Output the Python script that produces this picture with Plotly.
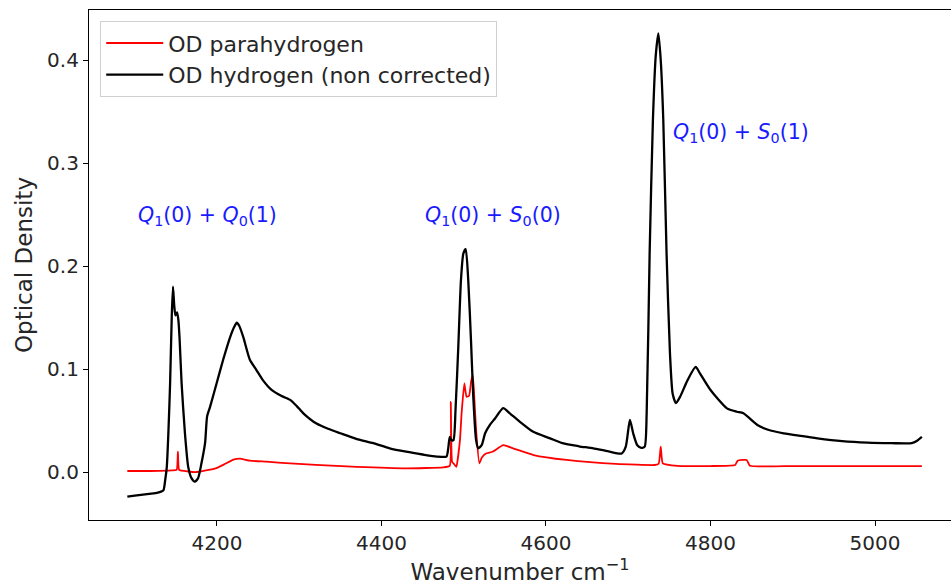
import plotly.graph_objects as go

# Black trace: optical density of normal hydrogen (non corrected)
wn_h = [4091, 4100, 4110, 4120, 4128, 4132, 4135, 4137, 4139, 4141, 4143, 4145,
        4146.5, 4148, 4149.5, 4151.5, 4153, 4154.5, 4157, 4161, 4165, 4169, 4173,
        4177, 4181, 4185.5, 4188, 4191.5, 4199.5, 4207.5, 4216, 4221, 4224, 4227,
        4232, 4240, 4248, 4256, 4266, 4278, 4289, 4297, 4305, 4321, 4335, 4350,
        4370, 4390, 4410, 4430, 4450, 4467, 4479, 4481, 4483, 4485, 4487.5, 4490,
        4493.4, 4496.6, 4499.5, 4502.4, 4505.5, 4508.8, 4511.6, 4515, 4517.7,
        4521.8, 4526, 4532, 4538, 4548, 4556, 4568, 4584.5, 4605, 4620, 4640,
        4657.5, 4676, 4692, 4697, 4702, 4706, 4711, 4716, 4720, 4722.4, 4726, 4730,
        4733.5, 4736.6, 4739.5, 4742.6, 4746.6, 4750.7, 4754, 4758, 4763, 4772,
        4782, 4787, 4800, 4820, 4832, 4840, 4857, 4870, 4889, 4910, 4930, 4960,
        4991, 5020, 5044.6, 5050.7, 5057]
od_h = [-0.024, -0.023, -0.022, -0.021, -0.020, -0.019, -0.0175, -0.008, 0.005,
        0.040, 0.086, 0.151, 0.180, 0.162, 0.152, 0.155, 0.148, 0.130, 0.086,
        0.038, 0.005, -0.006, -0.0094, -0.006, 0.008, 0.028, 0.054, 0.063, 0.086,
        0.109, 0.131, 0.141, 0.145, 0.142, 0.131, 0.109, 0.099, 0.089, 0.080,
        0.074, 0.070, 0.064, 0.057, 0.047, 0.042, 0.0376, 0.032, 0.028, 0.023,
        0.0197, 0.017, 0.015, 0.015, 0.022, 0.034, 0.031, 0.031, 0.060, 0.122,
        0.186, 0.212, 0.2165, 0.186, 0.128, 0.073, 0.031, 0.023, 0.026, 0.0376,
        0.046, 0.052, 0.062, 0.057, 0.049, 0.039, 0.0327, 0.028, 0.025, 0.023,
        0.020, 0.018, 0.0246, 0.0505, 0.0376, 0.026, 0.0235, 0.0246, 0.057, 0.212,
        0.342, 0.405, 0.426, 0.400, 0.342, 0.212, 0.1155, 0.076, 0.067, 0.073,
        0.089, 0.102, 0.096, 0.0796, 0.0618, 0.0585, 0.057, 0.0456, 0.041, 0.0376,
        0.035, 0.0327, 0.030, 0.0285, 0.028, 0.028, 0.030, 0.034]

# Red trace: optical density of parahydrogen
wn_p = [4091, 4120, 4145, 4151, 4152.5, 4154, 4165, 4175, 4190, 4200, 4210,
        4220, 4228, 4240, 4260, 4289, 4320, 4370, 4430, 4475, 4483, 4484.3,
        4485.8, 4488, 4491, 4495.4, 4497.4, 4500.7, 4503.4, 4506.5, 4509, 4511,
        4513, 4515, 4519, 4522, 4527, 4535, 4548, 4560, 4585, 4625, 4685, 4732,
        4737, 4739.5, 4742, 4760, 4800, 4830, 4833, 4844, 4848, 4900, 4960, 5057]
od_p = [0.001, 0.001, 0.0015, 0.002, 0.0197, 0.002, 0.0005, 0.0, 0.002, 0.004,
        0.008, 0.012, 0.013, 0.011, 0.010, 0.0084, 0.007, 0.005, 0.0036, 0.0045,
        0.006, 0.068, 0.010, 0.008, 0.005, 0.031, 0.057, 0.086, 0.073, 0.074,
        0.088, 0.094, 0.070, 0.041, 0.0084, 0.014, 0.018, 0.0197, 0.026, 0.023,
        0.0165, 0.0117, 0.0078, 0.0068, 0.008, 0.0246, 0.0084, 0.006, 0.0058,
        0.0068, 0.011, 0.0117, 0.006, 0.0058, 0.0058, 0.0058]

# Band assignments (label, left wavenumber, optical density)
band_labels = ["<i>Q</i><sub>1</sub>(0) + <i>Q</i><sub>0</sub>(1)",
               "<i>Q</i><sub>1</sub>(0) + <i>S</i><sub>0</sub>(0)",
               "<i>Q</i><sub>1</sub>(0) + <i>S</i><sub>0</sub>(1)"]
band_x = [4102, 4451, 4752]
band_y = [0.2485, 0.249, 0.329]

x_ticks = [4200, 4400, 4600, 4800, 5000]
y_ticks = [0.0, 0.1, 0.2, 0.3, 0.4]

FONT = "DejaVu Sans"
TXT = "#262626"

fig = go.Figure()
fig.add_trace(go.Scatter(x=wn_p, y=od_p, mode="lines", name="OD parahydrogen",
                         line=dict(color="red", width=1.8, shape="spline",
                                   smoothing=0.4)))
fig.add_trace(go.Scatter(x=wn_h, y=od_h, mode="lines",
                         name="OD hydrogen (non corrected)",
                         line=dict(color="black", width=2.3, shape="spline",
                                   smoothing=0.6)))

for lab, bx, by in zip(band_labels, band_x, band_y):
    fig.add_annotation(x=bx, y=by, text=lab, showarrow=False, xanchor="left",
                       yanchor="middle",
                       font=dict(family=FONT, size=20.5, color="#1a1aff"))

fig.update_layout(
    width=951, height=588,
    margin=dict(l=89, r=0, t=10, b=68),
    paper_bgcolor="white", plot_bgcolor="white",
    font=dict(family=FONT, size=20, color=TXT),
    legend=dict(x=0.013, y=0.978, xanchor="left", yanchor="top",
                bgcolor="rgba(255,255,255,0.8)", bordercolor="#d0d0d0",
                borderwidth=1, font=dict(family=FONT, size=22, color=TXT),
                itemwidth=57, tracegroupgap=0),
    showlegend=True,
)
fig.update_xaxes(range=[4044.4, 5092.4], tickvals=x_ticks,
                 ticks="outside", ticklen=5, tickcolor="black",
                 tickfont=dict(size=20),
                 showline=True, linecolor="black", linewidth=1.2, mirror=True,
                 showgrid=False, zeroline=False,
                 title=dict(text="Wavenumber cm<sup>−1</sup>",
                            font=dict(family=FONT, size=23, color=TXT), standoff=4))
fig.update_yaxes(range=[-0.0466, 0.4486], tickvals=y_ticks, tickformat=".1f",
                 ticks="outside", ticklen=5, tickcolor="black",
                 tickfont=dict(size=20),
                 showline=True, linecolor="black", linewidth=1.2, mirror=False,
                 showgrid=False, zeroline=False,
                 title=dict(text="Optical Density",
                            font=dict(family=FONT, size=23, color=TXT), standoff=8))

fig.write_html("out.html")
